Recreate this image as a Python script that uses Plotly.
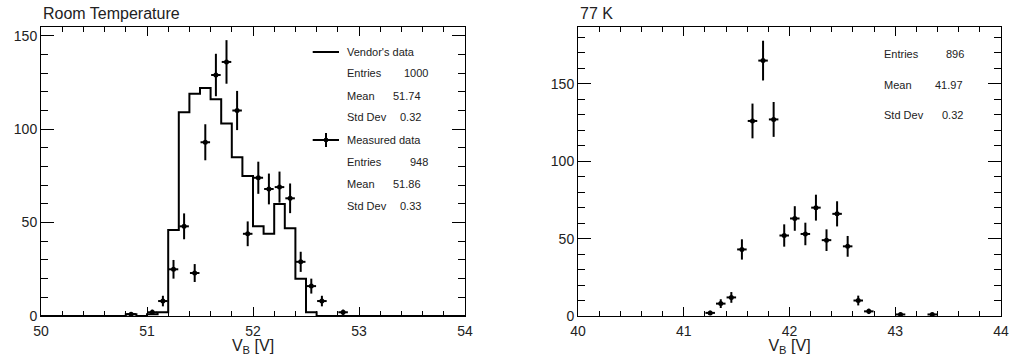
import numpy as np
import plotly.graph_objects as go

# ---------------- data ----------------
# Room temperature: vendor's histogram (bin low edges, width 0.1)
vendor_bin_low = [50.8, 51.0, 51.1, 51.2, 51.3, 51.4, 51.5, 51.6, 51.7, 51.8,
                  51.9, 52.0, 52.1, 52.2, 52.3, 52.4, 52.5]
vendor_counts = [1, 1, 2, 46, 109, 119, 122, 116, 103, 85,
                 75, 48, 44, 60, 47, 20, 2]

# Room temperature: measured data (bin centres)
meas_rt_x = [50.85, 51.05, 51.15, 51.25, 51.35, 51.45, 51.55, 51.65, 51.75, 51.85,
             51.95, 52.05, 52.15, 52.25, 52.35, 52.45, 52.55, 52.65, 52.85]
meas_rt_y = [1, 2, 8, 25, 48, 23, 93, 129, 136, 110,
             44, 74, 68, 69, 63, 29, 16, 8, 2]

# 77 K measured data (bin centres)
meas_77_x = [41.25, 41.35, 41.45, 41.55, 41.65, 41.75, 41.85, 41.95, 42.05, 42.15,
             42.25, 42.35, 42.45, 42.55, 42.65, 42.75, 43.05, 43.35]
meas_77_y = [2, 8, 12, 43, 126, 165, 127, 52, 63, 53,
             70, 49, 66, 45, 10, 3, 1, 1]

bin_width = 0.1
x_rt_range = [50, 54]
x_77_range = [40, 44]

stats_rt_vendor = [("Entries", "1000"), ("Mean", "51.74"), ("Std Dev", "0.32")]
stats_rt_meas = [("Entries", "948"), ("Mean", "51.86"), ("Std Dev", "0.33")]
stats_77 = [("Entries", "896"), ("Mean", "41.97"), ("Std Dev", "0.32")]

# ---------------- build step line for histogram ----------------
edges = np.round(np.arange(x_rt_range[0], x_rt_range[1] + bin_width / 2, bin_width), 3)
counts_full = np.zeros(len(edges) - 1)
for lo, c in zip(vendor_bin_low, vendor_counts):
    idx = int(round((lo - x_rt_range[0]) / bin_width))
    counts_full[idx] = c
step_x = list(edges)
step_y = list(counts_full) + [counts_full[-1]]

FONT = "Liberation Sans, Arial, sans-serif"
fig = go.Figure()

fig.add_trace(go.Scatter(
    x=step_x, y=step_y, mode="lines", line=dict(shape="hv", color="black", width=2),
    xaxis="x", yaxis="y", showlegend=False, hoverinfo="skip"))

def meas_trace(xs, ys, xa, ya):
    return go.Scatter(
        x=xs, y=ys, mode="markers", xaxis=xa, yaxis=ya, showlegend=False,
        marker=dict(color="black", size=5, symbol="circle"),
        error_y=dict(type="data", array=list(np.sqrt(ys)), color="black", thickness=2, width=0),
        error_x=dict(type="data", array=[bin_width * 0.45] * len(xs), color="black", thickness=2, width=0),
    )

fig.add_trace(meas_trace(meas_rt_x, meas_rt_y, "x", "y"))
fig.add_trace(meas_trace(meas_77_x, meas_77_y, "x2", "y2"))

W, H = 1009, 356
L, R, T, B = 41, 8, 27, 40
PW, PH = W - L - R, H - T - B

def px(xp):
    return (xp - L) / PW

def py(yp):
    return (H - B - yp) / PH

common_axis = dict(
    showgrid=False, zeroline=False, showline=True, linecolor="black", linewidth=1,
    mirror="ticks", ticks="inside", tickcolor="black", tickwidth=1, automargin=False,
    ticklabeloverflow="allow",
    tickfont=dict(family=FONT, size=14, color="#222222"),
)

xax = dict(common_axis, dtick=1, ticklen=9, ticklabelstandoff=2,
           minor=dict(dtick=0.2, ticks="inside", ticklen=5, tickcolor="black", tickwidth=1),
           title=dict(text="V<sub>B</sub> [V]", font=dict(family=FONT, size=16, color="#222222"), standoff=2))
yax = dict(common_axis, dtick=50, ticklen=13,
           minor=dict(dtick=10, ticks="inside", ticklen=7, tickcolor="black", tickwidth=1))

fig.update_layout(
    width=W, height=H, margin=dict(l=L, r=R, t=T, b=B, autoexpand=False),
    plot_bgcolor="white", paper_bgcolor="white",
    xaxis=dict(xax, domain=[0, px(465)], range=x_rt_range, anchor="y"),
    yaxis=dict(yax, domain=[0, 1], range=[0, 154.7], anchor="x"),
    xaxis2=dict(xax, domain=[px(578), 1], range=x_77_range, anchor="y2"),
    yaxis2=dict(yax, domain=[0, 1], range=[0, 186.7], anchor="x2"),
)

ann = []
def text(x, y, s, anchor="left", size=11):
    ann.append(dict(x=x, y=y, xref="paper", yref="paper", text=s, showarrow=False,
                    xanchor=anchor, yanchor="middle",
                    font=dict(family=FONT, size=size, color="#222222")))

text(px(41), py(14), "Room Temperature", size=16)
text(px(578), py(14), "77 K", size=16)

# left stats box
text(px(345), py(52), "Vendor's data")
rows_y = [73, 96, 117.3]
for (k, v), yy in zip(stats_rt_vendor, rows_y):
    text(px(345), py(yy), k)
    text(px(430 if k == "Entries" else 423), py(yy), v, anchor="right")
text(px(345), py(140), "Measured data")
rows_y = [162.3, 184.3, 206]
for (k, v), yy in zip(stats_rt_meas, rows_y):
    text(px(345), py(yy), k)
    text(px(430 if k == "Entries" else 423), py(yy), v, anchor="right")

# right stats box
rows_y = [54.3, 85, 115]
for (k, v), yy in zip(stats_77, rows_y):
    text(px(882), py(yy), k)
    text(px(966 if k == "Entries" else 964.5), py(yy), v, anchor="right")

fig.update_layout(annotations=ann)

shapes = [
    dict(type="line", xref="paper", yref="paper", x0=px(312.7), x1=px(339), y0=py(52), y1=py(52),
         line=dict(color="black", width=2)),
    dict(type="line", xref="paper", yref="paper", x0=px(312.7), x1=px(339), y0=py(140), y1=py(140),
         line=dict(color="black", width=2)),
    dict(type="line", xref="paper", yref="paper", x0=px(326), x1=px(326), y0=py(133), y1=py(147),
         line=dict(color="black", width=2)),
    dict(type="circle", xref="paper", yref="paper", x0=px(324), x1=px(328), y0=py(138), y1=py(142),
         fillcolor="black", line=dict(color="black", width=1)),
]
fig.update_layout(shapes=shapes)

fig.write_html("out.html")
